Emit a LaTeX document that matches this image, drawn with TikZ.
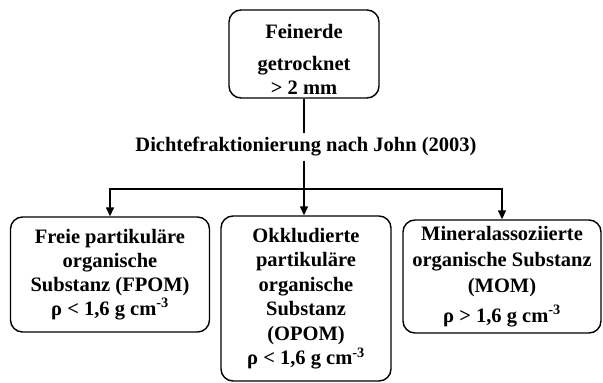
\documentclass[tikz,border=0pt]{standalone}
\usepackage{fontspec}
\setmainfont{Liberation Serif}
\usetikzlibrary{arrows.meta}
\begin{document}
\begin{tikzpicture}[x=1pt,y=-1pt,
  txt/.style={font=\fontsize{20.5}{24}\selectfont\bfseries},
  box/.style={txt,draw,line width=1.4pt,rounded corners=12pt,align=center,inner sep=0pt},
  conn/.style={line width=1.4pt},
  arr/.style={conn,-{Triangle[length=9pt,width=8pt]}}]
\useasboundingbox (0,0) rectangle (603,383);
\node[box,minimum width=150pt,minimum height=88pt] (top) at (304,54)
  {\rule{0pt}{25pt}Feinerde\\[8pt]getrocknet\\> 2 mm};
\node[txt,inner sep=4pt] (lab) at (306,147) {Dichtefraktionierung nach John (2003)};
\node[box,minimum width=199pt,minimum height=115pt] (left) at (110,274.5)
  {Freie partikuläre\\organische\\Substanz (FPOM)\\ρ < 1,6 g cm\textsuperscript{-3}};
\node[box,minimum width=170pt,minimum height=165pt,
  font=\fontsize{20.5}{24.5}\selectfont\bfseries] (mid) at (306,298.5)
  {Okkludierte\\partikuläre\\organische\\Substanz\\(OPOM)\\ρ < 1,6 g cm\textsuperscript{-3}};
\node[box,minimum width=198pt,minimum height=113pt,
  font=\fontsize{20.5}{26}\selectfont\bfseries] (right) at (502,276.5)
  {Mineralassoziierte\\organische Substanz\\(MOM)\\[4pt]ρ > 1,6 g cm\textsuperscript{-3}};
\coordinate (j) at (304,189);
\draw[conn] (top.south) -- (top.south |- lab.north);
\draw[conn] (top.south |- lab.south) -- (j);
\draw[arr] (j) -| (left.north);
\draw[arr] (j) -- (j |- mid.north);
\draw[arr] (j) -| (right.north);
\end{tikzpicture}
\end{document}
